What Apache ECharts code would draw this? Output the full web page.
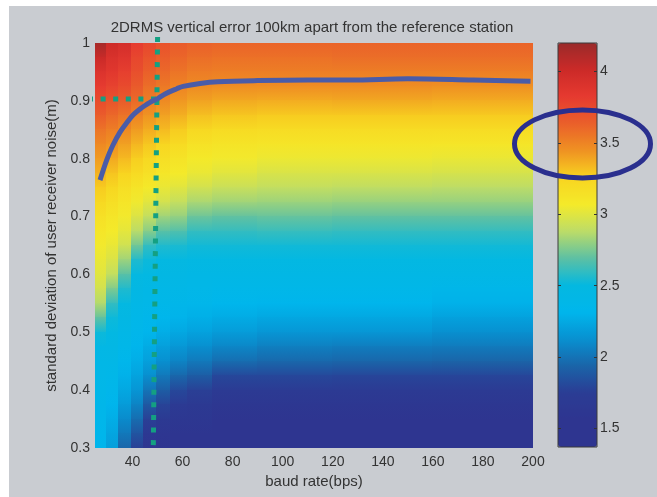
<!DOCTYPE html>
<html>
<head>
<meta charset="utf-8">
<script src="https://cdn.jsdelivr.net/npm/echarts@6/dist/echarts.min.js"></script>
<style>
  html, body { margin: 0; padding: 0; background: #ffffff; }
  #panel { position: absolute; left: 9px; top: 6px; right: 0; bottom: 0; background: #c9ccd1; }
  #chart { position: absolute; left: 0; top: 0; width: 657px; height: 497px; }
</style>
</head>
<body>
<div id="panel"></div>
<div id="chart"></div>
<script>
// Baud-rate bins (bps): cell edges along x
const xEdges = [25, 29.5, 34.5, 39.5, 44.5, 49.5, 55, 62, 72, 90, 120, 160, 200];
// Receiver noise std (m): sample rows along y, top to bottom
const noiseRows = [1.0, 0.975, 0.95, 0.925, 0.9, 0.875, 0.85, 0.825, 0.8, 0.775, 0.75, 0.725, 0.7,
  0.675, 0.65, 0.625, 0.6, 0.575, 0.55, 0.525, 0.5, 0.475, 0.45, 0.425, 0.4, 0.375, 0.35, 0.325, 0.3];

// 2DRMS vertical error (m), one column per baud-rate bin, rows follow noiseRows
const err27 = [4.15, 4.02, 3.9, 3.82, 3.74, 3.65, 3.56, 3.48, 3.42, 3.35, 3.28, 3.21, 3.15, 3.1, 3.06, 3.03, 3.0, 2.95, 2.86, 2.7, 2.52, 2.44, 2.41, 2.39, 2.37, 2.36, 2.35, 2.33, 2.31];
const err32 = [4.0, 3.92, 3.86, 3.78, 3.7, 3.6, 3.52, 3.45, 3.38, 3.3, 3.23, 3.16, 3.11, 3.07, 3.03, 2.98, 2.9, 2.76, 2.6, 2.52, 2.47, 2.44, 2.41, 2.38, 2.35, 2.31, 2.27, 2.23, 2.2];
const err37 = [3.95, 3.88, 3.8, 3.74, 3.66, 3.56, 3.48, 3.4, 3.33, 3.25, 3.17, 3.11, 3.06, 3.01, 2.94, 2.82, 2.68, 2.56, 2.49, 2.45, 2.41, 2.37, 2.33, 2.29, 2.24, 2.18, 2.1, 2.02, 1.94];
const err42 = [3.82, 3.76, 3.72, 3.66, 3.6, 3.5, 3.42, 3.34, 3.27, 3.2, 3.12, 3.05, 2.98, 2.87, 2.73, 2.56, 2.49, 2.45, 2.41, 2.38, 2.35, 2.31, 2.27, 2.22, 2.15, 2.07, 1.97, 1.86, 1.76];
const err47 = [3.76, 3.7, 3.64, 3.58, 3.52, 3.44, 3.37, 3.29, 3.22, 3.15, 3.08, 3.0, 2.9, 2.77, 2.6, 2.52, 2.47, 2.43, 2.39, 2.35, 2.31, 2.26, 2.2, 2.12, 2.0, 1.88, 1.76, 1.65, 1.58];
const err52 = [3.7, 3.65, 3.6, 3.54, 3.48, 3.4, 3.33, 3.24, 3.17, 3.1, 3.03, 2.95, 2.82, 2.68, 2.56, 2.49, 2.45, 2.41, 2.37, 2.32, 2.27, 2.2, 2.12, 2.02, 1.9, 1.78, 1.67, 1.59, 1.54];
const err58 = [3.66, 3.61, 3.56, 3.5, 3.43, 3.36, 3.28, 3.2, 3.13, 3.07, 3.0, 2.9, 2.8, 2.66, 2.55, 2.48, 2.44, 2.4, 2.36, 2.3, 2.24, 2.16, 2.07, 1.95, 1.8, 1.7, 1.62, 1.56, 1.52];
const err67 = [3.63, 3.58, 3.53, 3.47, 3.4, 3.31, 3.22, 3.14, 3.08, 3.03, 2.95, 2.84, 2.72, 2.6, 2.53, 2.47, 2.43, 2.39, 2.34, 2.28, 2.21, 2.12, 2.02, 1.9, 1.76, 1.67, 1.6, 1.54, 1.5];
const err81 = [3.62, 3.57, 3.52, 3.46, 3.38, 3.29, 3.2, 3.12, 3.06, 3.0, 2.92, 2.82, 2.7, 2.6, 2.53, 2.47, 2.43, 2.38, 2.32, 2.26, 2.18, 2.08, 1.97, 1.8, 1.7, 1.62, 1.56, 1.52, 1.48];
const err105 = [3.62, 3.57, 3.52, 3.46, 3.37, 3.28, 3.19, 3.11, 3.04, 2.97, 2.9, 2.81, 2.71, 2.61, 2.53, 2.47, 2.42, 2.37, 2.31, 2.24, 2.15, 2.05, 1.95, 1.8, 1.7, 1.62, 1.56, 1.51, 1.47];
const err140 = [3.62, 3.58, 3.52, 3.46, 3.38, 3.28, 3.19, 3.11, 3.04, 2.97, 2.89, 2.8, 2.7, 2.6, 2.53, 2.47, 2.42, 2.37, 2.31, 2.24, 2.15, 2.04, 1.94, 1.79, 1.69, 1.61, 1.55, 1.5, 1.46];
const err180 = [3.62, 3.58, 3.52, 3.45, 3.37, 3.28, 3.19, 3.1, 3.03, 2.96, 2.88, 2.8, 2.7, 2.6, 2.53, 2.47, 2.42, 2.36, 2.29, 2.21, 2.12, 2.03, 1.93, 1.79, 1.69, 1.61, 1.55, 1.5, 1.46];
const errColumns = [err27, err32, err37, err42, err47, err52, err58, err67, err81, err105, err140, err180];

// Curve drawn over the field: [baud rate, noise std]
const curveBaud  = [27, 29.7, 32, 35, 38, 40.3, 43, 45.7, 47.6, 49.7, 53, 57.7, 60.2, 67, 74, 90, 110, 127, 150, 176, 199];
const curveNoise = [0.763, 0.798, 0.822, 0.846, 0.864, 0.876, 0.886, 0.894, 0.899, 0.903, 0.912, 0.921, 0.925, 0.930, 0.933, 0.935, 0.936, 0.936, 0.938, 0.936, 0.934];

// Reference guides: 50 bps and 0.9 m
const guideV = [[50, 1.0105], [48.3, 0.3]];
const guideH = [[22.2, 0.903], [49.6, 0.903]];

// Tick labels
const baudTicks = [40, 60, 80, 100, 120, 140, 160, 180, 200];
const noiseTicks = [0.3, 0.4, 0.5, 0.6, 0.7, 0.8, 0.9, 1];
const barTicks = [1.5, 2, 2.5, 3, 3.5, 4];
const barMin = 1.37, barMax = 4.2;

const FONT = '"Liberation Sans", Arial, sans-serif';
const TXT = '#333333';

const nRows = noiseRows.length;
const cells = [];
errColumns.forEach((col, i) => {
  col.forEach((v, j) => cells.push([xEdges[i], xEdges[i + 1], noiseRows[j], v]));
});

// Each band spans from one sample row to the next one below it and is
// shaded between the two mapped colours (interpolated shading).
function renderBand(params, api) {
  const k = params.dataIndexInside;
  if (k % nRows === nRows - 1) return null;
  const yTop = api.value(2);
  const yBot = noiseRows[(k % nRows) + 1];
  const p0 = api.coord([api.value(0), yTop]);
  const p1 = api.coord([api.value(1), yBot]);
  const x = Math.floor(p0[0]), y = Math.floor(p0[1]);
  return {
    type: 'rect',
    shape: { x: x, y: y, width: Math.ceil(p1[0]) - x + 1, height: Math.ceil(p1[1]) - y + 1 },
    style: {
      fill: {
        type: 'linear', x: 0, y: 0, x2: 0, y2: 1,
        colorStops: [
          { offset: 0, color: api.visual('color') },
          { offset: 1, color: api.visual('color', k + 1) }
        ]
      }
    }
  };
}

const chart = echarts.init(document.getElementById('chart'), null, { renderer: 'canvas' });

const option = {
  backgroundColor: 'transparent',
  animation: false,
  title: {
    text: '2DRMS vertical error 100km apart from the reference station',
    left: 312, top: 20, padding: 0, textAlign: 'center',
    textStyle: { fontFamily: FONT, fontSize: 15, fontWeight: 'normal', color: TXT }
  },
  grid: [
    { left: 95, top: 43, width: 438, height: 405, show: false },
    { left: 558, top: 43, width: 39, height: 404, show: true, borderColor: '#3a3a3a', borderWidth: 1,
      backgroundColor: 'transparent', z: 10 }
  ],
  xAxis: [
    {
      gridIndex: 0, type: 'value', min: 25, max: 200,
      name: 'baud rate(bps)', nameLocation: 'middle', nameGap: 26,
      nameTextStyle: { fontFamily: FONT, fontSize: 15, color: TXT },
      axisLine: { show: false }, splitLine: { show: false },
      axisTick: { show: false, customValues: baudTicks },
      axisLabel: { customValues: baudTicks, margin: 7, fontFamily: FONT, fontSize: 14, color: TXT }
    },
    { gridIndex: 1, type: 'value', min: 0, max: 1, show: false }
  ],
  yAxis: [
    {
      gridIndex: 0, type: 'value', min: 0.3, max: 1,
      name: 'standard deviation of user receiver noise(m)', nameLocation: 'middle', nameGap: 28,
      nameTextStyle: { fontFamily: FONT, fontSize: 15, color: TXT },
      axisLine: { show: false }, splitLine: { show: false },
      axisTick: { show: false, customValues: noiseTicks },
      axisLabel: { customValues: noiseTicks, margin: 5, fontFamily: FONT, fontSize: 14, color: TXT }
    },
    {
      gridIndex: 1, type: 'value', min: barMin, max: barMax, position: 'left', z: 11,
      axisLine: { show: false }, splitLine: { show: false },
      axisTick: { show: true, inside: true, length: 3, customValues: barTicks, lineStyle: { color: '#333', width: 1 } },
      axisLabel: { show: false, customValues: barTicks }
    },
    {
      gridIndex: 1, type: 'value', min: barMin, max: barMax, position: 'right', z: 11,
      axisLine: { show: false }, splitLine: { show: false },
      axisTick: { show: true, inside: true, length: 3, customValues: barTicks, lineStyle: { color: '#333', width: 1 } },
      axisLabel: { customValues: barTicks, margin: 3, fontFamily: FONT, fontSize: 14, color: TXT }
    }
  ],
  visualMap: {
    type: 'continuous', min: barMin, max: barMax, calculable: false,
    seriesIndex: 0, dimension: 3,
    left: 558, top: 43, itemWidth: 39, itemHeight: 404, padding: 0,
    text: null, hoverLink: false,
    inRange: {
      color: ['#2e3590', '#2e3590', '#2b3c94', '#1a64a8', '#0890d0', '#00b6ec', '#04b8e0', '#5cc0a4',
              '#bcdc68', '#f4ea2a', '#f8d420', '#ef9222', '#ea602a', '#e63a30', '#cc2a28', '#9a2a2a']
    }
  },
  series: [
    {
      type: 'custom', xAxisIndex: 0, yAxisIndex: 0, clip: true,
      renderItem: renderBand,
      encode: { x: [0, 1], y: 2 },
      data: cells, silent: true, z: 1
    },
    {
      type: 'line', xAxisIndex: 0, yAxisIndex: 0, smooth: 0.35, symbol: 'none', silent: true, z: 5,
      data: curveBaud.map((b, i) => [b, curveNoise[i]]),
      lineStyle: { color: '#4a5ca8', width: 5, cap: 'butt' }
    },
    {
      type: 'line', xAxisIndex: 0, yAxisIndex: 0, symbol: 'none', silent: true, clip: false, z: 4,
      data: guideV,
      lineStyle: { color: '#14a082', width: 5, type: [5, 7.6], cap: 'butt' }
    },
    {
      type: 'line', xAxisIndex: 0, yAxisIndex: 0, symbol: 'none', silent: true, clip: false, z: 4,
      data: guideH,
      lineStyle: { color: '#14a082', width: 5, type: [5, 7.6], cap: 'butt' }
    }
  ]
};

chart.setOption(option);

// Highlight ring around the 3.5 m level of the colour bar
const ringY = chart.convertToPixel({ yAxisIndex: 2 }, 3.5);
const ringX = chart.convertToPixel({ xAxisIndex: 1 }, 0.5) + 5;
chart.setOption({
  graphic: [{
    type: 'ellipse', z: 100, silent: true,
    shape: { cx: ringX, cy: ringY + 1, rx: 68, ry: 34 },
    style: { fill: null, stroke: '#2a2f8e', lineWidth: 5 }
  }]
});
</script>
</body>
</html>
